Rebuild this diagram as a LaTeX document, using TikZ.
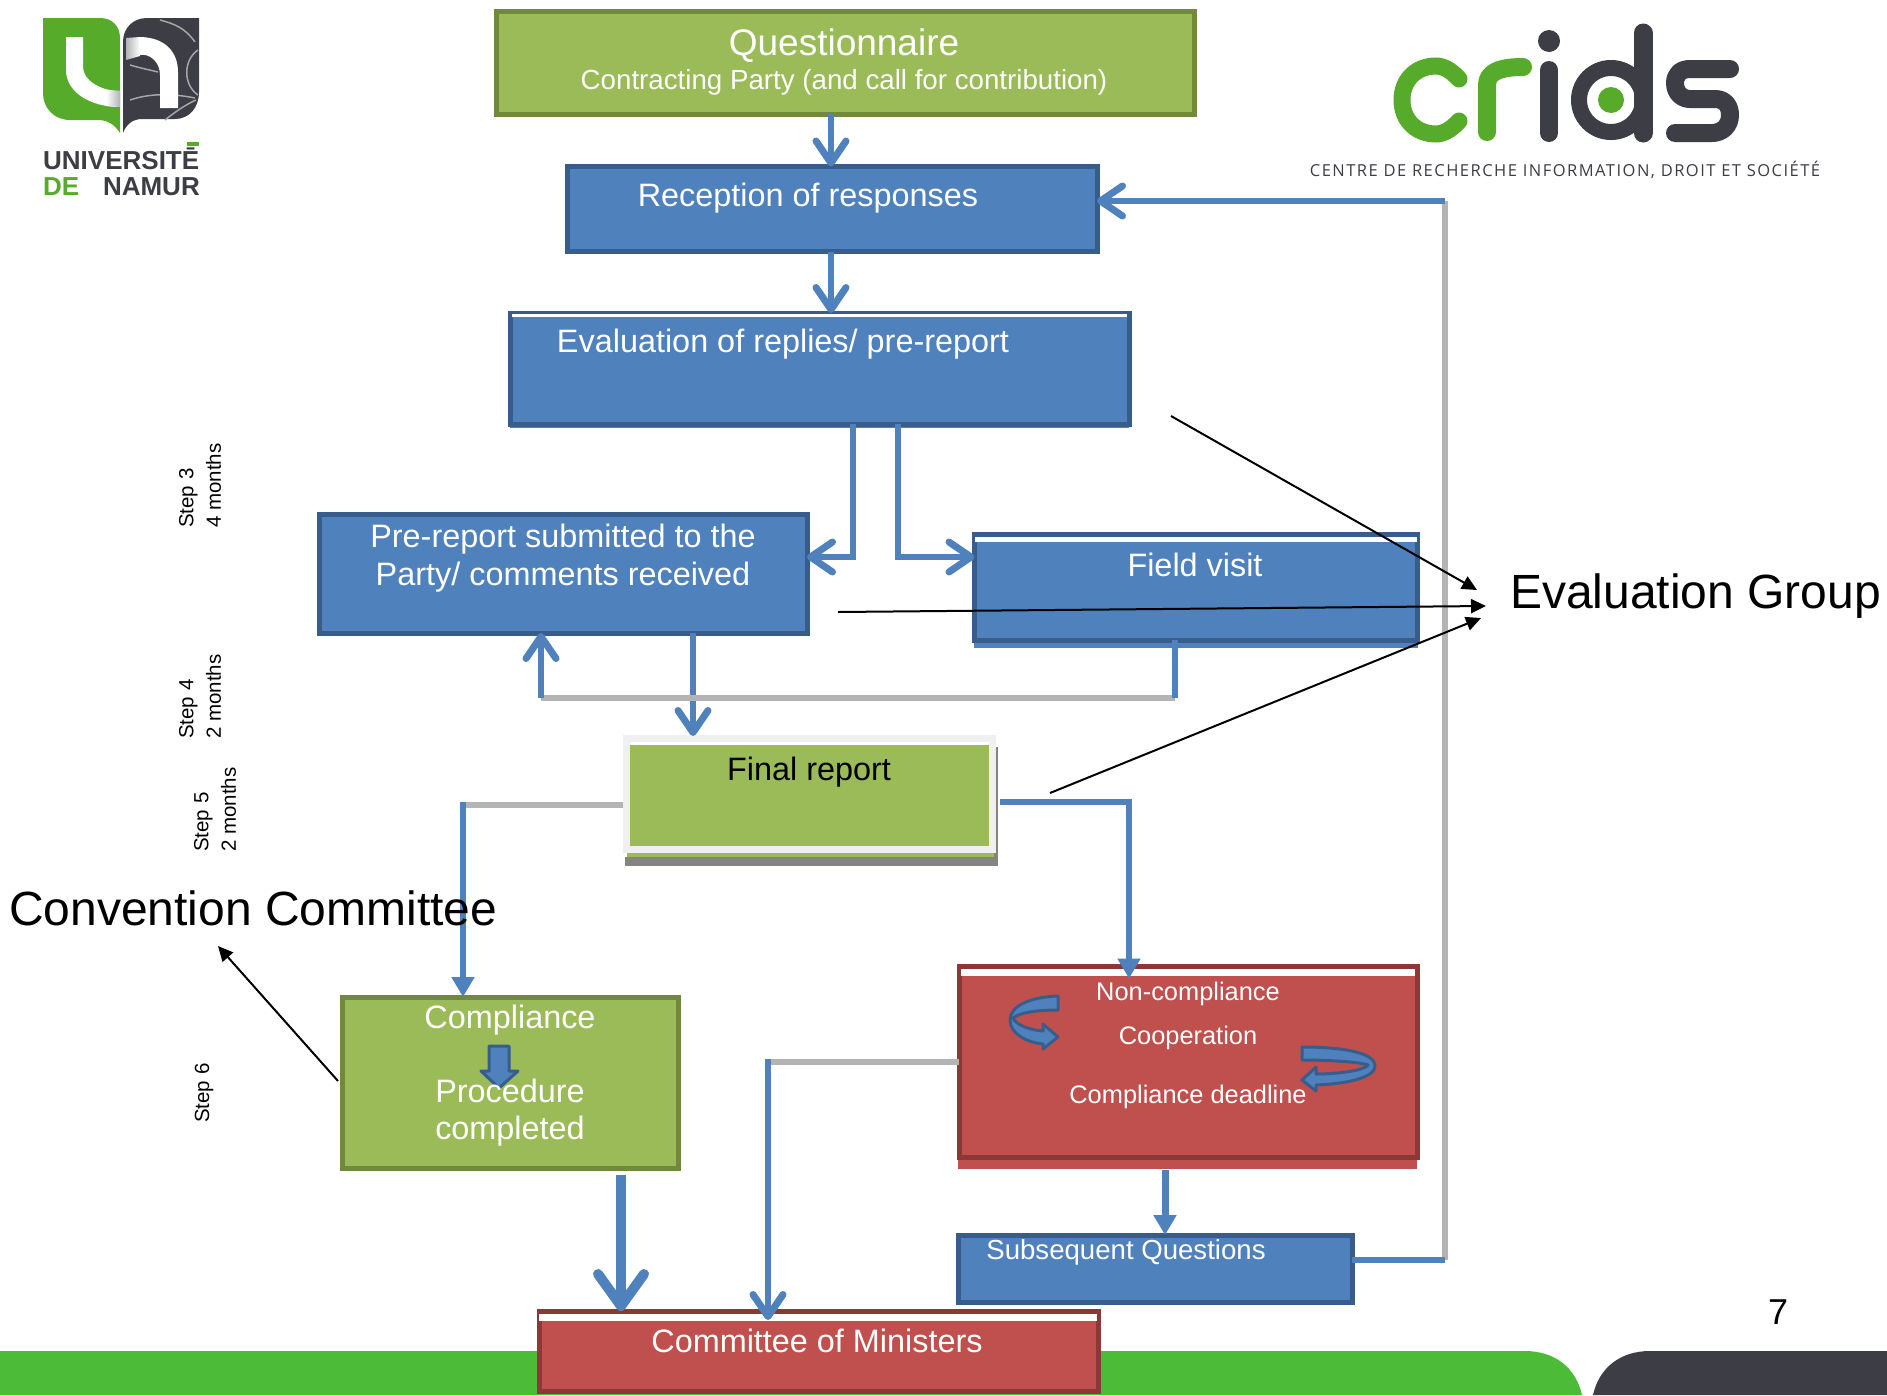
\documentclass[tikz,border=0pt]{standalone}
\usepackage{fontspec}
\setmainfont{Liberation Sans}
\newfontfamily\capsfont[LetterSpace=9]{Open Sans}
\usetikzlibrary{arrows.meta,calc}
\definecolor{bfill}{HTML}{4F81BD}
\definecolor{bline}{HTML}{385D8A}
\definecolor{gfill}{HTML}{9BBB59}
\definecolor{gline}{HTML}{71893F}
\definecolor{rfill}{HTML}{C0504D}
\definecolor{rline}{HTML}{8C3836}
\definecolor{barg}{HTML}{4CBB37}
\definecolor{dark}{HTML}{3C3D45}
\definecolor{lgreen}{HTML}{56AB2B}
\definecolor{sgray}{HTML}{B4B4B4}
\definecolor{frame}{HTML}{F0F0F0}
\definecolor{fshadow}{HTML}{858580}
\newcommand\fs[1]{\fontsize{#1pt}{#1pt}\selectfont}
\tikzset{
  x=1pt,y=-1pt,
  bluebox/.style={draw=bline,fill=bfill,line width=5pt,rectangle,inner sep=0pt,outer sep=0pt},
  greenbox/.style={draw=gline,fill=gfill,line width=5pt,rectangle,inner sep=0pt,outer sep=0pt},
  redbox/.style={draw=rline,fill=rfill,line width=5pt,rectangle,inner sep=0pt,outer sep=0pt},
  lab/.style={text=white,align=center,inner sep=0pt,font=\fs{32.4}},
  conn/.style={draw=bfill,line width=6pt},
  barb/.style={conn,-{Straight Barb[round,length=22pt,width=30pt,line width=7pt]}},
  tri/.style={conn,-{Triangle[length=20pt,width=22pt]}},
  grayline/.style={draw=sgray,line width=6pt},
  thin/.style={draw=black,line width=2pt,-{Triangle[length=15pt,width=14pt]}},
  steplab/.style={rotate=90,anchor=west,align=left,inner sep=0pt,font=\fs{20.5}},
  bigtext/.style={inner sep=0pt,font=\fs{48},text=black},
  curly/.style={fill=bfill,draw=bline,line width=3pt,line join=round},
}
\begin{document}
\begin{tikzpicture}
\useasboundingbox (0,0) rectangle (1887,1395);
\fill[white] (0,0) rectangle (1887,1395);
% footer bands
\fill[barg] (0,1351) -- (1525,1351) .. controls (1555,1351) and (1576,1368) .. (1582,1395) -- (0,1395) -- cycle;
\fill[dark] (1887,1351) -- (1650,1351) .. controls (1620,1351) and (1599,1368) .. (1593,1395) -- (1887,1395) -- cycle;
\node[inner sep=0pt,font=\fs{36}] (pagenum) at (1778,1312) {7};
% UNamur logo
\fill[lgreen] (43,18) -- (100,18) .. controls (112,18) and (120,26) .. (120,38) -- (120,133) .. controls (115,125) and (108,120) .. (98,120) -- (70,120) .. controls (54,120) and (43,108) .. (43,93) -- cycle;
\fill[white] (66,37) -- (83,37) -- (83,67) .. controls (83,80) and (100,91) .. (120,91) -- (120,107) .. controls (90,107) and (66,92) .. (66,70) -- cycle;
\shade[left color=white,right color=gray!60] (106,90) -- (120,91) -- (120,107) -- (106,106) -- cycle;
\fill[dark] (123,133) -- (123,42) .. controls (123,28) and (133,18) .. (147,18) -- (199,18) -- (199,92) .. controls (199,108) and (189,119) .. (175,119) -- (142,119) .. controls (132,119) and (126,125) .. (123,133) -- cycle;
\draw[gray!70,line width=1.5pt] (160,20) .. controls (175,24) and (185,28) .. (195,42) (198,50) .. controls (183,60) and (183,85) .. (198,95) (130,65) .. controls (140,68) and (150,70) .. (158,72) (130,100) .. controls (145,95) and (165,92) .. (195,98) (165,120) .. controls (175,112) and (185,105) .. (196,100);
\shade[left color=gray!60,right color=white] (126,38) -- (140,37) -- (140,56) -- (126,60) -- cycle;
\fill[white] (139,37) .. controls (165,37) and (178,52) .. (178,72) -- (178,108) -- (160,108) -- (160,75) .. controls (160,62) and (150,53) .. (139,55) -- cycle;
\node[inner sep=0pt,anchor=mid west,text=dark,font=\fs{26}\bfseries] (unamur1) at (43,167) {UNIVERSITĒ};
\fill[lgreen] (187,142) rectangle (199,146);
\node[inner sep=0pt,anchor=mid west,text=lgreen,font=\fs{26}\bfseries] (unamur2) at (43,193) {DE};
\node[inner sep=0pt,anchor=mid east,text=dark,font=\fs{26}\bfseries] (unamur3) at (200,193) {NAMUR};
% CRIDS logo
\draw[lgreen,line width=17pt,line cap=round] (1459,79) .. controls (1451,70) and (1443,66) .. (1436,66) .. controls (1416,66) and (1402,80) .. (1402,100) .. controls (1402,120) and (1416,134) .. (1436,134) .. controls (1443,134) and (1451,130) .. (1459,121);
\draw[lgreen,line width=18pt,line cap=round,line join=round] (1487,132) -- (1487,85) .. controls (1487,72) and (1500,67) .. (1523,67);
\fill[dark] (1549,41) circle[radius=11pt];
\draw[dark,line width=18pt,line cap=round] (1549,70) -- (1549,133);
\draw[dark,line width=16pt] (1611,100) circle[radius=32pt];
\fill[lgreen] (1611,100) circle[radius=13pt];
\draw[dark,line width=19pt,line cap=round] (1643,33) -- (1643,133);
\draw[dark,line width=18pt,line cap=round,line join=round] (1730,69) -- (1690,69) .. controls (1680,69) and (1675,75) .. (1675,83) .. controls (1675,93) and (1682,99) .. (1690,99) -- (1715,99) .. controls (1724,99) and (1730,105) .. (1730,115) .. controls (1730,126) and (1722,133) .. (1712,133) -- (1675,133);
\node[inner sep=0pt,anchor=mid,text=dark,font=\fs{16.5}\capsfont] (cridscap) at (1565,174) {CENTRE DE RECHERCHE INFORMATION, DROIT ET SOCIÉTÉ};
% boxes
\node[greenbox,minimum width=698pt,minimum height=103pt] (quest) at (845,62.5) {};
\node[bluebox,minimum width=530pt,minimum height=85pt] (recv) at (832,209) {};
\fill[bfill] (510,424) rectangle (1129,428);
\node[bluebox,minimum width=619pt,minimum height=111pt] (evalb) at (820,368.5) {};
\fill[white] (512,314) rectangle (1127,317);
\node[bluebox,minimum width=488pt,minimum height=119pt] (prer) at (563,573.5) {};
\fill[bfill] (974,640) rectangle (1418,648);
\node[bluebox,minimum width=443pt,minimum height=106pt] (field) at (1196,587) {};
\fill[white] (975,537) rectangle (1417,542);
% final report stacked
\fill[fshadow] (625,857) rectangle (998,866);
\fill[fshadow] (994,747) rectangle (998,866);
\fill[gfill] (627,852) rectangle (994,856.5);
\fill[frame] (623,735) rectangle (996,853);
\fill[white] (630,742) rectangle (989,745);
\node[fill=gfill,rectangle,inner sep=0pt,outer sep=0pt,minimum width=359pt,minimum height=101pt] (final) at (809.5,795.5) {};
\node[greenbox,minimum width=336pt,minimum height=171pt] (comp) at (510,1082.5) {};
\fill[rfill] (958,1155) rectangle (1417,1169);
\node[redbox,minimum width=458pt,minimum height=191pt] (noncomp) at (1188,1062) {};
\fill[white] (961,969) rectangle (1415,976);
\node[bluebox,minimum width=394pt,minimum height=67pt] (subq) at (1155,1268.5) {};
\node[redbox,minimum width=559pt,minimum height=80pt] (minis) at (818.5,1351) {};
\fill[white] (539,1314) rectangle (1097,1321);
% ports
\coordinate (p1) at (831,0);
\coordinate (p2) at (853,0);
\coordinate (p3) at (898,0);
\coordinate (p4) at (693,0);
\coordinate (p5) at (1175,0);
\coordinate (p6) at (541,0);
\coordinate (p7) at (463,0);
\coordinate (p8) at (1129,0);
\coordinate (p9) at (621,0);
\coordinate (p10) at (768,0);
\coordinate (p11) at (1165,0);
\coordinate (p12) at (1445,0);
\coordinate (h1) at (0,557);
\coordinate (h2) at (0,698);
\coordinate (h3) at (0,805);
\coordinate (h3r) at (0,802);
\coordinate (h4) at (0,1062);
\coordinate (h5) at (0,1260);
\coordinate (h6) at (0,201);
% connectors
\draw[barb] (p1 |- quest.south) -- (p1 |- recv.north);
\draw[barb] (p1 |- recv.south) -- (p1 |- evalb.north);
\draw[barb] (p2 |- evalb.south) -- (p2 |- h1) -- (h1 -| prer.east);
\draw[barb] (p3 |- evalb.south) -- (p3 |- h1) -- (h1 -| field.west);
\draw[barb] (p4 |- prer.south) -- ([yshift=9pt]p4 |- final.north);
% field -> pre-report
\draw[grayline] (p5 |- h2) -- (p6 |- h2);
\draw[conn] (p5 |- field.south) -- (p5 |- h2);
\draw[barb] (p6 |- h2) -- (p6 |- prer.south);
% final -> compliance
\draw[grayline] ([xshift=-7pt]final.west |- h3) -- (p7 |- h3);
\draw[tri] ([yshift=3pt]p7 |- h3) -- (p7 |- comp.north);
% final -> noncompliance
\draw[tri,line join=miter] ([xshift=11pt]final.east |- h3r) -- (p8 |- h3r) -- ([yshift=-12pt]p8 |- noncomp.north);
% compliance -> ministers
\draw[conn,line width=10pt,-{Straight Barb[round,length=32pt,width=46pt,line width=10pt]}] ([yshift=-7pt]p9 |- comp.south) -- (p9 |- minis.north);
% noncompliance -> ministers
\draw[grayline] (noncomp.west |- h4) -- (p10 |- h4);
\draw[barb] ([yshift=3pt]p10 |- h4) -- ([yshift=-9pt]p10 |- minis.north);
% noncompliance -> subsequent
\draw[tri,line width=7pt] ([yshift=-12.5pt]p11 |- noncomp.south) -- (p11 |- subq.north);
% subsequent -> reception
\draw[grayline] (p12 |- h5) -- (p12 |- h6);
\draw[conn] (subq.east |- h5) -- (p12 |- h5);
\draw[barb] (p12 |- h6) -- (recv.east |- h6);
% small block arrow
\draw[curly,fill=bfill] (489,1046) -- (509,1046) -- (509,1071) -- (518,1071) -- (499,1088) -- (481,1071) -- (489,1071) -- cycle;
% curly arrows
\draw[curly] (1058,996) .. controls (1030,997) and (1010,1006) .. (1010,1020) .. controls (1010,1033) and (1025,1042) .. (1043,1044) -- (1043,1049) -- (1058,1037) -- (1043,1024) -- (1043,1031) .. controls (1030,1030) and (1016,1025) .. (1013,1018) .. controls (1020,1012) and (1040,1010) .. (1058,1010) -- cycle;
\draw[curly] (1302,1047) .. controls (1340,1047) and (1375,1052) .. (1375,1066) .. controls (1375,1078) and (1345,1084) .. (1316,1085) -- (1316,1091) -- (1302,1080) -- (1316,1067) -- (1316,1074) .. controls (1340,1074) and (1365,1070) .. (1368,1065) .. controls (1360,1062) and (1330,1060) .. (1302,1060) -- cycle;
% box labels
\node[lab,font=\fs{37}] (t1) at (844,46) {Questionnaire};
\node[lab,font=\fs{27.7}] (t1b) at (844,82) {Contracting Party (and call for contribution)};
\node[lab] (t2) at (808,198) {Reception of responses};
\node[lab] (t3) at (783,344) {Evaluation of replies/ pre-report};
\node[lab] (t4) at (563,539) {Pre-report submitted to the};
\node[lab] (t4b) at (563,577) {Party/ comments received};
\node[lab] (t5) at (1195,565) {Field visit};
\node[lab,text=black] (t6) at (809,772) {Final report};
\node[lab] (t7) at (510,1020) {Compliance};
\node[lab] (t7b) at (510,1091) {Procedure};
\node[lab] (t7c) at (510,1131) {completed};
\node[lab,font=\fs{25.4}] (t8) at (1188,994) {Non-compliance};
\node[lab,font=\fs{25.4}] (t8b) at (1188,1038) {Cooperation};
\node[lab,font=\fs{25.4}] (t8c) at (1188,1097) {Compliance deadline};
\node[lab,font=\fs{27.6}] (t9) at (1126,1252) {Subsequent Questions};
\node[lab] (t10) at (817,1341) {Committee of Ministers};
% step labels
\node[steplab] (s3) at (200,528) {Step 3\\[7pt]4 months};
\node[steplab] (s4) at (200,739) {Step 4\\[7pt]2 months};
\node[steplab] (s5) at (215,852) {Step 5\\[7pt]2 months};
\node[steplab] (s6) at (204,1123) {Step 6};
% side labels
\node[bigtext,anchor=west] (evg) at (1510,596) {Evaluation Group};
\node[bigtext,anchor=west] (conv) at (9,908) {Convention Committee};
% pointer lines
\coordinate (e1) at (1171,416);
\coordinate (e2) at (838,612);
\coordinate (e3) at (1050,793);
\coordinate (e4) at (338,1081);
\coordinate (t1e) at (1477,590);
\coordinate (t2e) at (1486,606);
\coordinate (t3e) at (1481,618);
\coordinate (t4e) at (218,946);
\draw[thin] (e1) -- (t1e);
\draw[thin] (e2) -- (t2e);
\draw[thin] (e3) -- (t3e);
\draw[thin] (e4) -- (t4e);
\end{tikzpicture}
\end{document}
